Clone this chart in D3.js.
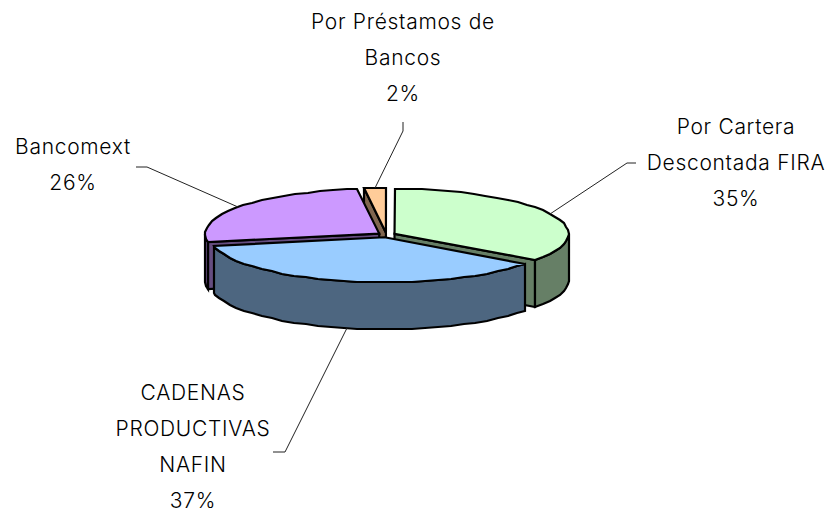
<!DOCTYPE html>
<html>
<head>
<meta charset="utf-8">
<script src="https://cdn.jsdelivr.net/npm/d3@7"></script>
<style>
  html, body { margin: 0; padding: 0; background: #fff; }
  svg { display: block; }
  text { font-family: "Inter", sans-serif; font-weight: 300; font-size: 21px; letter-spacing: 0.7px; fill: #000; text-anchor: middle; }
</style>
</head>
<body>
<div id="chart"></div>
<script>
// chart values
const categories = ["Por Cartera Descontada FIRA", "CADENAS PRODUCTIVAS NAFIN", "Bancomext", "Por Préstamos de Bancos"];
const values = [35, 37, 26, 2];
const labelLines = [
  ["Por Cartera", "Descontada FIRA", "35%"],
  ["CADENAS", "PRODUCTIVAS", "NAFIN", "37%"],
  ["Bancomext", "26%"],
  ["Por Préstamos de", "Bancos", "2%"]
];
const topColors = ["#CCFFCC", "#99CCFF", "#CC99FF", "#FFCC99"];
const sideColors = ["#667F66", "#4D6680", "#664D80", "#806650"];

// layout of the tilted pie
const width = 834, height = 514;
const cx = 386.5, cy = 235, rx = 174, ry = 45, depth = 47, explode = 9;
const lineGap = 36;

// label centre + first line y, and the elbow of each leader line
const labelPos = [
  { x: 736, y: 134, elbow: [[627, 163], [636, 163]] },
  { x: 193, y: 400, elbow: [[285, 452], [273, 452]] },
  { x: 73, y: 154, elbow: [[147, 167], [136, 167]] },
  { x: 403, y: 29, elbow: [[403, 131], [403, 122]] }
];

const svg = d3.select("#chart").append("svg")
  .attr("width", width)
  .attr("height", height);

const slices = d3.pie().sort(null)(values).map((d, i) => {
  const mid = (d.startAngle + d.endAngle) / 2;
  return {
    i,
    a0: d.startAngle,
    a1: d.endAngle,
    mid,
    ox: cx + explode * Math.sin(mid),
    oy: cy - explode * Math.cos(mid) * ry / rx
  };
});

const rim = (s, a, dz = 0) => [
  Math.round(s.ox + rx * Math.sin(a)),
  Math.round(s.oy - ry * Math.cos(a) + dz)
];

// sampled every few degrees, snapped to pixels: gives the rough edge of the original
function arcPoints(s, a0, a1, dz = 0) {
  const pts = d3.range(a0, a1, Math.PI / 40).map(a => rim(s, a, dz));
  pts.push(rim(s, a1, dz));
  return pts;
}

const line = d3.line();

function poly(pts, fill) {
  svg.append("path")
    .attr("d", line(pts) + "Z")
    .attr("fill", fill)
    .attr("stroke", "#000")
    .attr("stroke-width", 2.2)
    .attr("stroke-linejoin", "miter");
}

function drawSlice(s) {
  const side = sideColors[s.i];
  const apex = [s.ox, s.oy];
  const apexLow = [s.ox, s.oy + depth];

  // cut faces that look towards the viewer
  if (Math.sin(s.a0) < -1e-6) {
    poly([apex, rim(s, s.a0), rim(s, s.a0, depth), apexLow], side);
  }
  if (Math.sin(s.a1) > 1e-6) {
    poly([apex, rim(s, s.a1), rim(s, s.a1, depth), apexLow], side);
  }

  // outer wall, only the front half of the ellipse
  const w0 = Math.max(s.a0, Math.PI / 2);
  const w1 = Math.min(s.a1, Math.PI * 3 / 2);
  if (w1 > w0) {
    poly(arcPoints(s, w0, w1).concat(arcPoints(s, w0, w1, depth).reverse()), side);
  }

  // top face
  poly([apex].concat(arcPoints(s, s.a0, s.a1)), topColors[s.i]);
}

// back slices first
[3, 2, 0, 1].forEach(i => drawSlice(slices[i]));

// leader lines start on the rim at the middle of each slice
slices.forEach(s => {
  const front = Math.cos(s.mid) < -0.5;
  const start = rim(s, s.mid, front ? depth : 0);
  svg.append("path")
    .attr("d", line([start].concat(labelPos[s.i].elbow)))
    .attr("fill", "none")
    .attr("stroke", "#222")
    .attr("stroke-width", 1);
});

// labels
labelLines.forEach((lines, i) => {
  const p = labelPos[i];
  svg.append("g").attr("class", "label").attr("data-name", categories[i])
    .selectAll("text").data(lines).join("text")
    .attr("x", p.x)
    .attr("y", (d, j) => p.y + j * lineGap)
    .text(d => d);
});
</script>
</body>
</html>
